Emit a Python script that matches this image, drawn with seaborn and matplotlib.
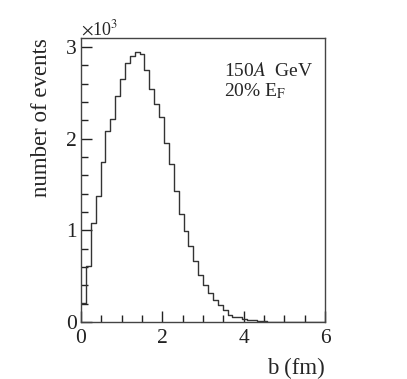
import numpy as np
import pandas as pd
import matplotlib
matplotlib.use("Agg")
import matplotlib.pyplot as plt
import seaborn as sns
from matplotlib.ticker import MultipleLocator

# impact parameter histogram, 50 bins of 0.12 fm from 0 to 6 fm
bin_edges = np.linspace(0, 6, 51)
counts = [210, 614, 1082, 1380, 1747, 2088, 2219, 2470, 2655, 2822,
          2898, 2946, 2920, 2753, 2539, 2383, 2234, 1954, 1729, 1431,
          1180, 995, 828, 668, 519, 410, 315, 238, 185, 128,
          80, 58, 55, 36, 28, 22, 12, 10, 7, 6,
          4, 3, 1, 0, 0, 0, 0, 0, 0, 0]
bin_centers = (bin_edges[:-1] + bin_edges[1:]) / 2

y_ticks = [0, 1000, 2000, 3000]
y_tick_labels = ["0", "1", "2", "3"]
x_ticks = [0, 2, 4, 6]

df = pd.DataFrame({"b": bin_centers, "n": counts})

sns.set_style("ticks")
plt.rcParams["font.family"] = ["Liberation Serif", "DejaVu Serif"]
plt.rcParams["mathtext.fontset"] = "stix"

fig = plt.figure(figsize=(4.07, 3.79), dpi=100)
ax = fig.add_axes([0.199, 0.150, 0.600, 0.750])

sns.histplot(data=df, x="b", weights="n", bins=list(bin_edges), element="step",
             fill=False, color="#333333", linewidth=1.0, ax=ax)

ax.set_xlim(0, 6)
ax.set_ylim(0, 3100)
ax.set_xticks(x_ticks)
ax.set_xticklabels([str(v) for v in x_ticks])
ax.xaxis.set_minor_locator(MultipleLocator(0.5))
ax.set_yticks(y_ticks)
ax.set_yticklabels(y_tick_labels)
ax.yaxis.set_minor_locator(MultipleLocator(200))

ax.tick_params(which="both", direction="in", labelsize=15.5, colors="#222222")
ax.tick_params(which="major", length=8, width=1)
ax.tick_params(which="minor", length=5, width=1)
ax.tick_params(axis="x", pad=5)
ax.tick_params(axis="y", pad=3)
for sp in ax.spines.values():
    sp.set_color("#444444")
    sp.set_linewidth(1)

ax.set_xlabel("b (fm)", fontsize=16.5, loc="right", labelpad=7)
ax.set_ylabel("number of events", fontsize=16.5, loc="top", labelpad=10)

fig.text(0.200, 0.908, r"$\times$10$^{3}$", fontsize=13)
ax.text(0.585, 0.865, r"150$\it{A}$  GeV", transform=ax.transAxes, fontsize=14)
ax.text(0.585, 0.795, r"20% E$_{\rm F}$", transform=ax.transAxes, fontsize=14)

fig.savefig("out.png", dpi=100)
